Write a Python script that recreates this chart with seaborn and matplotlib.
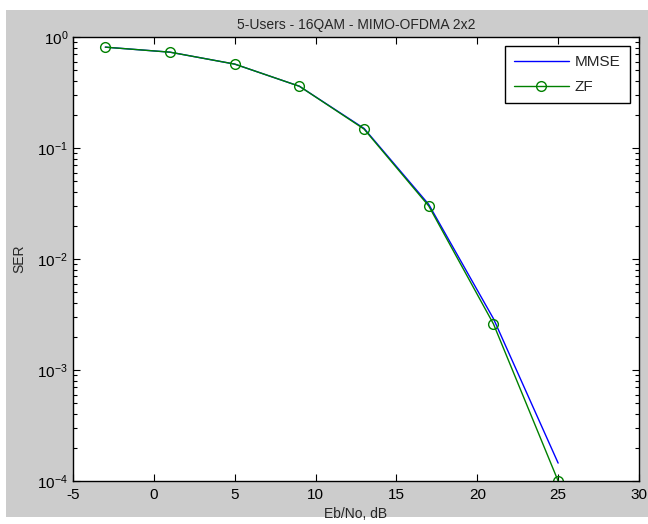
import seaborn as sns
import pandas as pd
import matplotlib.pyplot as plt
import matplotlib.patches as patches
from matplotlib.ticker import LogLocator, NullFormatter, MultipleLocator

#-----------------------------------------------------------------------------------------------------------------------
"""Data"""
ebno = [-3, 1, 5, 9, 13, 17, 21, 25]
ser_mmse = [0.81, 0.73, 0.57, 0.36, 0.15, 0.031, 0.0029, 1.45e-4]
ser_zf = [0.81, 0.73, 0.57, 0.36, 0.148, 0.030, 0.0026, 1.0e-4]

df = pd.DataFrame({'ebno': ebno, 'MMSE': ser_mmse, 'ZF': ser_zf})

#-----------------------------------------------------------------------------------------------------------------------
"""Style"""
sns.set_style('ticks')
plt.rcParams['font.family'] = ['Liberation Sans', 'DejaVu Sans']
plt.rcParams['mathtext.fontset'] = 'custom'
plt.rcParams['mathtext.rm'] = 'Liberation Sans'
plt.rcParams['mathtext.it'] = 'Liberation Sans'
plt.rcParams['axes.unicode_minus'] = False
plt.rcParams['font.size'] = 10

#-----------------------------------------------------------------------------------------------------------------------
"""Figure"""
fig = plt.figure(figsize=(6.48, 5.24), dpi=100)
fig.patch.set_facecolor('white')
# grey MATLAB-like figure panel
fig.patches.append(patches.Rectangle((6 / 648, 7 / 524), 1 - 6 / 648, (524 - 10 - 7) / 524,
                                     transform=fig.transFigure, facecolor='#cccccc',
                                     edgecolor='none', zorder=-10))
ax = fig.add_axes([73 / 648, 43 / 524, 566 / 648, 444 / 524])
ax.set_facecolor('white')

#-----------------------------------------------------------------------------------------------------------------------
"""Plotting"""
sns.lineplot(data=df, x='ebno', y='MMSE', ax=ax, color='#0000ff', linewidth=1, label='MMSE')
sns.lineplot(data=df, x='ebno', y='ZF', ax=ax, color='#008000', linewidth=1, label='ZF',
             marker='o', markersize=7, markerfacecolor='none', markeredgecolor='#008000',
             markeredgewidth=1)

ax.set_yscale('log')
ax.set_xlim(-5, 30)
ax.set_ylim(1e-4, 1)
ax.xaxis.set_major_locator(MultipleLocator(5))
ax.yaxis.set_major_locator(LogLocator(base=10, numticks=10))
ax.yaxis.set_minor_locator(LogLocator(base=10, subs=range(2, 10), numticks=10))
ax.yaxis.set_minor_formatter(NullFormatter())

#Ticks
ax.tick_params(axis='both', which='both', direction='in', top=True, right=True, colors='black',
               labelsize=11)
ax.tick_params(axis='x', pad=5)
ax.tick_params(which='major', length=5, width=0.8)
ax.tick_params(which='minor', length=3, width=0.8)

#Spines
for s in ax.spines.values():
    s.set_visible(True)
    s.set_color('black')
    s.set_linewidth(1)

#Labels
ax.set_title('5-Users - 16QAM - MIMO-OFDMA 2x2', fontsize=10, pad=6)
ax.set_xlabel('Eb/No, dB', fontsize=10, labelpad=4)
ax.set_ylabel('SER', fontsize=10, labelpad=8)

#Legend
leg = ax.legend(loc='upper right', fancybox=False, framealpha=1, edgecolor='black',
                handlelength=3.6, handletextpad=0.4, fontsize=11, borderaxespad=0.6,
                borderpad=0.6, labelspacing=0.7)
leg.get_frame().set_linewidth(1)

fig.savefig('out.png', dpi=100)
